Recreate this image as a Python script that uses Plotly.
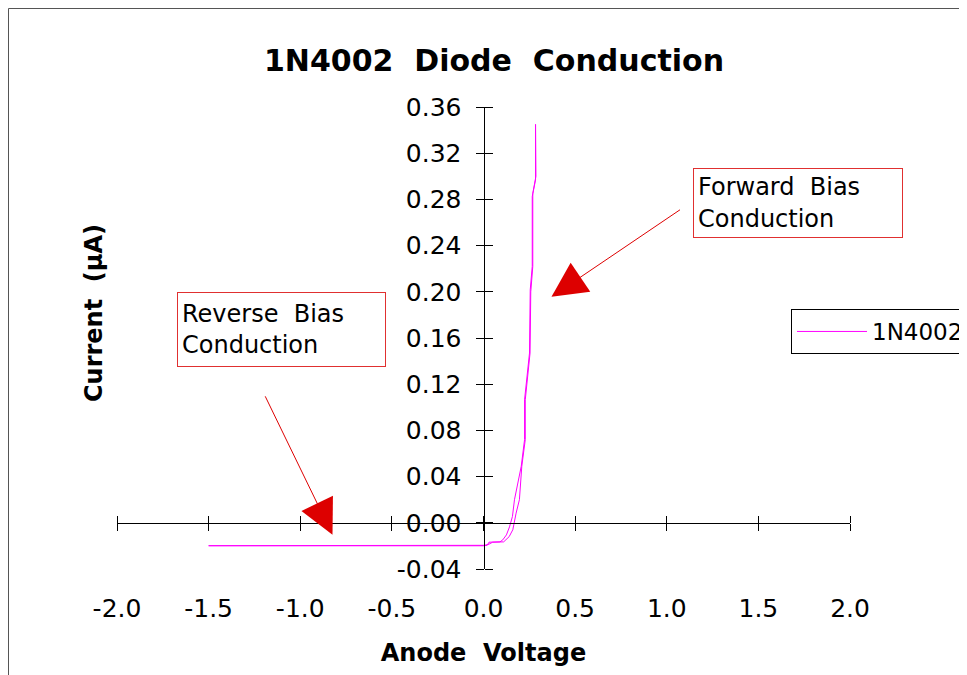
import plotly.graph_objects as go

# ---- data ----
voltage_up = [-1.5, -1.0, -0.5, 0.0, 0.02, 0.03, 0.09, 0.105, 0.125, 0.142, 0.158, 0.169,
              0.206, 0.224, 0.224, 0.251, 0.255, 0.266, 0.266, 0.284, 0.284]
current_up = [-0.0198, -0.0198, -0.0197, -0.0196, -0.0195, -0.0168, -0.0165, -0.0148, -0.0105,
              -0.0035, 0.0055, 0.020, 0.049, 0.072, 0.1065, 0.147, 0.2017, 0.222, 0.2825,
              0.297, 0.345]
voltage_down = [0.286, 0.286, 0.269, 0.269, 0.258, 0.254, 0.228, 0.228, 0.209, 0.196, 0.178,
                0.160, 0.140, 0.110, 0.050, 0.030, 0.0, -1.5]
current_down = [0.345, 0.300, 0.285, 0.222, 0.200, 0.147, 0.1065, 0.072, 0.049, 0.020, 0.0084,
                -0.006, -0.012, -0.0165, -0.0168, -0.0185, -0.0199, -0.0199]

x_ticks = [-2.0, -1.5, -1.0, -0.5, 0.0, 0.5, 1.0, 1.5, 2.0]
x_ticktext = ["-2.0", "-1.5", "-1.0", "-0.5", "0.0", "0.5", "1.0", "1.5", "2.0"]
y_ticks = [-0.04, 0.00, 0.04, 0.08, 0.12, 0.16, 0.20, 0.24, 0.28, 0.32, 0.36]
y_ticktext = ["-0.04", "0.00", "0.04", "0.08", "0.12", "0.16", "0.20", "0.24", "0.28", "0.32", "0.36"]

series_name = "1N4002"
title_text = "1N4002\u00a0 Diode\u00a0 Conduction"
x_title = "Anode\u00a0 Voltage"
y_title = "Current\u00a0 (\u03bcA)"
forward_text = "Forward\u00a0 Bias<br>Conduction"
reverse_text = "Reverse\u00a0 Bias<br>Conduction"

X_RANGE = [-2.0, 2.0]
Y_RANGE = [-0.04, 0.36]

FONT = "DejaVu Sans"
MAGENTA = "#ff00ff"
RED = "#dd0000"
BOX_RED = "#e03030"

# page layout (page pixels; the page body has an 8px margin)
OFF = 8
W, H = 967, 675
PLOT_L, PLOT_R, PLOT_T, PLOT_B = 117, 850, 107, 569
ML = PLOT_L - OFF
MT = PLOT_T - OFF
MR = W - (PLOT_R - OFF)
MB = H - (PLOT_B - OFF)
PW = PLOT_R - PLOT_L
PH = PLOT_B - PLOT_T


def paper_x(px):
    return (px - PLOT_L) / PW


def paper_y(py):
    return (PLOT_B - py) / PH


voltage = voltage_up + voltage_down
current = current_up + current_down

fig = go.Figure()
fig.add_trace(go.Scatter(x=voltage, y=current, mode="lines", name=series_name,
                         line=dict(color=MAGENTA, width=1)))
# empty helper traces registering the axis-crossing axes and the title axis
fig.add_trace(go.Scatter(x=[], y=[], xaxis="x2", yaxis="y2", showlegend=False, hoverinfo="skip"))
fig.add_trace(go.Scatter(x=[], y=[], xaxis="x3", yaxis="y3", showlegend=False, hoverinfo="skip"))
fig.add_trace(go.Scatter(x=[], y=[], xaxis="x", yaxis="y4", showlegend=False, hoverinfo="skip"))

zero_y_pos = (0 - Y_RANGE[0]) / (Y_RANGE[1] - Y_RANGE[0])
zero_x_pos = (0 - X_RANGE[0]) / (X_RANGE[1] - X_RANGE[0])

common = dict(showgrid=False, zeroline=False)

fig.update_layout(
    width=W, height=H, autosize=False,
    margin=dict(l=ML, r=MR, t=MT, b=MB, autoexpand=False),
    paper_bgcolor="white", plot_bgcolor="rgba(0,0,0,0)",
    font=dict(family=FONT, size=24, color="black"),
    title=dict(text=title_text, x=(494 - OFF) / W, xref="container", xanchor="center",
               y=1 - (60 - OFF) / H, yref="container", yanchor="middle",
               font=dict(family=FONT, size=30, color="black", weight="bold")),
    xaxis=dict(range=X_RANGE, domain=[0, 1], anchor="y", showline=False, ticks="",
               tickvals=x_ticks, ticktext=x_ticktext, ticklabelstandoff=22,
               tickfont=dict(size=25),
               title=dict(text=x_title, standoff=22, font=dict(size=24, weight="bold")),
               **common),
    yaxis=dict(range=Y_RANGE, domain=[0, 1], anchor="x", showline=False, ticks="",
               showticklabels=False, **common),
    yaxis4=dict(domain=[paper_y(519), 1], anchor="free", position=0, showline=False,
                ticks="", showticklabels=False,
                title=dict(text=y_title, standoff=6, font=dict(size=24, weight="bold")),
                **common),
    xaxis2=dict(range=X_RANGE, overlaying="x", anchor="free", position=zero_y_pos,
                side="bottom", showline=True, linecolor="black", linewidth=1,
                ticks="outside", ticklen=7, tickcolor="black", tickwidth=1,
                tickvals=x_ticks, showticklabels=False, **common),
    xaxis3=dict(range=X_RANGE, overlaying="x", anchor="free", position=zero_y_pos,
                side="top", showline=False,
                ticks="outside", ticklen=7, tickcolor="black", tickwidth=1,
                tickvals=x_ticks, showticklabels=False, **common),
    yaxis2=dict(range=Y_RANGE, overlaying="y", anchor="free", position=zero_x_pos,
                side="left", showline=True, linecolor="black", linewidth=1,
                ticks="outside", ticklen=8, tickcolor="black", tickwidth=1,
                tickvals=y_ticks, ticktext=y_ticktext, ticklabelstandoff=9,
                tickfont=dict(size=25), **common),
    yaxis3=dict(range=Y_RANGE, overlaying="y", anchor="free", position=zero_x_pos,
                side="right", showline=False,
                ticks="outside", ticklen=8, tickcolor="black", tickwidth=1,
                tickvals=y_ticks, showticklabels=False, **common),
    legend=dict(x=paper_x(791), y=paper_y(309), xanchor="left", yanchor="top",
                bordercolor="black", borderwidth=1, bgcolor="white", itemwidth=70,
                font=dict(family=FONT, size=23)),
    showlegend=True,
)

# outer chart frame
fig.add_shape(type="rect", xref="paper", yref="paper",
              x0=paper_x(8.5), x1=2.0, y0=-1.0, y1=paper_y(8.5),
              line=dict(color="#555555", width=1), fillcolor="rgba(0,0,0,0)", layer="below")

# text boxes
box_style = dict(xref="paper", yref="paper", showarrow=False, align="left",
                 bordercolor=BOX_RED, borderwidth=1, borderpad=4, bgcolor="white",
                 font=dict(family=FONT, size=24, color="black"),
                 xanchor="left", yanchor="top")
fig.add_annotation(text=forward_text, x=paper_x(693), y=paper_y(168),
                   width=200, height=60, **box_style)
fig.add_annotation(text=reverse_text, x=paper_x(177), y=paper_y(292),
                   width=199, height=65, **box_style)

# arrows
arrow_style = dict(xref="x", yref="y", axref="pixel", ayref="pixel", text="", showarrow=True,
                   arrowhead=2, arrowsize=7, arrowwidth=1, arrowcolor=RED)
fig.add_annotation(x=0.371, y=0.1957, ax=130, ay=-88, **arrow_style)
fig.add_annotation(x=-0.824, y=-0.0104, ax=-68, ay=-140, **arrow_style)

fig.write_html("out.html")
